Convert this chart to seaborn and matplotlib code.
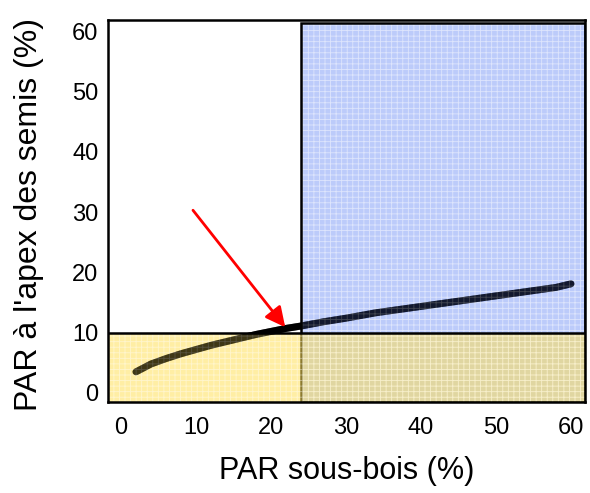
import matplotlib
matplotlib.use("Agg")
import matplotlib.pyplot as plt
from matplotlib.patches import Rectangle
import seaborn as sns
import pandas as pd

# Light at seedling apex vs. understory light
par_understory = [2, 4, 6, 8, 10, 12, 14, 16, 18, 20, 22, 24, 27, 30, 34, 38,
                  42, 46, 50, 54, 58, 60]
par_apex = [3.5, 4.8, 5.7, 6.5, 7.2, 7.9, 8.5, 9.1, 9.7, 10.2, 10.7, 11.1,
            11.8, 12.4, 13.3, 14.0, 14.7, 15.4, 16.1, 16.8, 17.5, 18.1]

x_ticks = [0, 10, 20, 30, 40, 50, 60]
y_ticks = [0, 10, 20, 30, 40, 50, 60]

apex_threshold = 10      # horizontal limit of the lower band
understory_threshold = 24  # vertical limit of the right band
arrow_from = (9.6, 30.3)
arrow_to = (21.9, 10.9)

x_label = "PAR sous-bois (%)"
y_label = "PAR à l'apex des semis (%)"

sns.set_theme(style="white")
plt.rcParams["font.family"] = ["Liberation Sans", "DejaVu Sans"]
plt.rcParams["hatch.linewidth"] = 0.6

df = pd.DataFrame({"x": par_understory, "y": par_apex})

fig = plt.figure(figsize=(5.9, 4.93), dpi=100)
ax = fig.add_axes([108 / 590, 91 / 493, 477 / 590, 382 / 493])

xlim = (-1.73, 61.87)
ylim = (-1.5, 61.85)
ax.set_xlim(*xlim)
ax.set_ylim(*ylim)

# curve under the translucent bands ...
sns.lineplot(data=df, x="x", y="y", ax=ax, color="black", linewidth=5,
             solid_capstyle="round", zorder=2)

# Right band (high understory light)
blue_top = 61.3
ax.add_patch(Rectangle((understory_threshold, ylim[0]), xlim[1] - understory_threshold,
                       blue_top - ylim[0], facecolor=(0.38, 0.52, 0.96, 0.42),
                       edgecolor=(1, 1, 1, 0.5), hatch="+++", lw=0, zorder=3))
ax.add_patch(Rectangle((understory_threshold, ylim[0]), xlim[1] - understory_threshold,
                       blue_top - ylim[0], fill=False, edgecolor="black", lw=1.8,
                       zorder=4))

# Lower band (low light at apex)
ax.add_patch(Rectangle((xlim[0], ylim[0]), xlim[1] - xlim[0],
                       apex_threshold - ylim[0], facecolor=(1.0, 0.88, 0.35, 0.55),
                       edgecolor=(1, 1, 1, 0.45), hatch="+++", lw=0, zorder=5))
ax.plot([xlim[0], xlim[1]], [apex_threshold, apex_threshold], color="black",
        lw=1.8, zorder=6)

# ... and a half-transparent copy on top so it stays dark inside them
ax.plot(par_understory, par_apex, color="black", lw=5, alpha=0.55,
        solid_capstyle="round", zorder=6.5)

ax.annotate("", xy=arrow_to, xytext=arrow_from,
            arrowprops=dict(arrowstyle="-|>,head_length=1.0,head_width=0.5",
                            color="red", lw=2.0, shrinkA=0, shrinkB=0),
            zorder=7)

ax.set_xticks(x_ticks)
ax.set_yticks(y_ticks)
ax.tick_params(axis="x", length=0, pad=11, labelsize=17, labelcolor="black")
ax.tick_params(axis="y", length=0, pad=7, labelsize=17, labelcolor="black")

ax.set_xlabel(x_label, fontsize=22, color="black", va="center")
ax.set_ylabel(y_label, fontsize=23, color="black", va="center")
ax.xaxis.set_label_coords(0.5, -0.18)
ax.yaxis.set_label_coords(-0.165, 0.49)

for s in ax.spines.values():
    s.set_color("black")
    s.set_linewidth(1.8)
    s.set_zorder(8)

fig.savefig("out.png", dpi=100)
